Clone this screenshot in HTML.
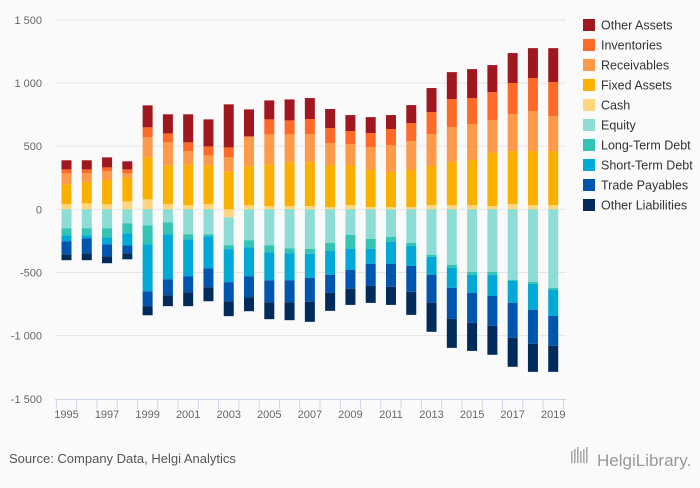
<!DOCTYPE html>
<html><head><meta charset="utf-8"><style>
body{margin:0;background:#fafafa;font-family:"Liberation Sans",sans-serif}
#wrap{position:relative;width:700px;height:483px;background:#fafafa}
svg text{font-family:"Liberation Sans",sans-serif}
</style></head><body>
<div id="wrap">
<svg id="chart" width="700" height="483"></svg>
</div>
<script>
const years=[1995,1996,1997,1998,1999,2000,2001,2002,2003,2004,2005,2006,2007,2008,2009,2010,2011,2012,2013,2014,2015,2016,2017,2018,2019];
const cash=[40,47,40,63,79,40,32,40,-63,32,24,24,26,18,34,18,18,18,34,34,34,26,42,34,34];
const fixedAssets=[158,169,192,190,332,308,324,308,301,308,332,348,348,333,317,293,277,293,309,340,356,420,419,427,427];
const receivables=[87,69,69,32,159,182,103,79,110,230,237,221,222,174,166,182,214,230,253,277,285,261,293,317,277];
const inventories=[31,31,31,31,79,71,71,71,79,8,119,111,119,118,103,111,127,142,174,222,206,221,246,261,269];
const otherAssets=[72,72,79,64,174,151,222,214,341,213,150,166,166,151,126,126,110,142,190,213,229,214,237,237,269];
const equity=[-150,-150,-150,-111,-127,-103,-198,-198,-222,-245,-285,-309,-314,-266,-203,-235,-219,-266,-361,-440,-496,-496,-559,-575,-622];
const longTermDebt=[-56,-56,-72,-79,-150,-95,-39,-16,-31,-56,-55,-39,-39,-64,-111,-79,-39,-24,-16,-24,-23,-23,-8,-16,-16];
const shortTermDebt=[-47,-23,-55,-95,-372,-356,-293,-253,-261,-229,-222,-214,-190,-189,-166,-118,-174,-158,-142,-158,-143,-167,-174,-205,-206];
const tradePayables=[-103,-119,-95,-63,-118,-126,-127,-150,-151,-166,-174,-174,-190,-143,-150,-175,-182,-206,-222,-246,-237,-237,-277,-269,-237];
const otherLiabilities=[-47,-55,-55,-48,-72,-87,-110,-111,-118,-111,-134,-142,-158,-142,-127,-134,-143,-182,-229,-229,-222,-229,-229,-222,-206];
const yTicks=[-1500,-1000,-500,0,500,1000,1500];
const yTickLabels=["-1 500","-1 000","-500","0","500","1 000","1 500"];
const xLabelYears=[1995,1997,1999,2001,2003,2005,2007,2009,2011,2013,2015,2017,2019];

const NS="http://www.w3.org/2000/svg";
const svg=document.getElementById('chart');
function mk(t,a){const e=document.createElementNS(NS,t);for(const k in a)e.setAttribute(k,a[k]);svg.appendChild(e);return e;}
const y0=209.3, pxPer=0.1263;
function y(v){return y0-v*pxPer;}
const xStart=66.5, step=20.28;
function x(i){return xStart+i*step;}

yTicks.forEach((t,i)=>{
  if(t!==-1500){const g=mk('line',{x1:55,x2:566,y1:y(t),y2:y(t),stroke:'#e6e6e6','stroke-width':1});
  
  }
  const tx=mk('text',{x:42,y:y(t)+4,'text-anchor':'end','font-size':11,fill:'#666'});
  tx.textContent=yTickLabels[i];
  
  
});
const ax=mk('line',{x1:55,x2:566,y1:399.5,y2:399.5,stroke:'#ccd6eb','stroke-width':1});


for(let i=0;i<=years.length;i++){
  const tk=mk('line',{x1:x(i)-step/2,x2:x(i)-step/2,y1:399.5,y2:409,stroke:'#ccd6eb','stroke-width':1});
  
  
}
xLabelYears.forEach(yr=>{
  const i=years.indexOf(yr);
  const t=mk('text',{x:x(i),y:418,'text-anchor':'middle','font-size':11,fill:'#666'});
  t.textContent=yr;
  
  
});

const series=[
 {name:'Cash',d:cash,c:'#ffd580'},
 {name:'Fixed Assets',d:fixedAssets,c:'#fbb000'},
 {name:'Receivables',d:receivables,c:'#ff9a4a'},
 {name:'Inventories',d:inventories,c:'#ff6a28'},
 {name:'Other Assets',d:otherAssets,c:'#a0171f'},
 {name:'Equity',d:equity,c:'#8eddd4'},
 {name:'Long-Term Debt',d:longTermDebt,c:'#33c4b3'},
 {name:'Short-Term Debt',d:shortTermDebt,c:'#00a9d6'},
 {name:'Trade Payables',d:tradePayables,c:'#0056ae'},
 {name:'Other Liabilities',d:otherLiabilities,c:'#002b5a'}
];
const bw=10;
years.forEach((yr,i)=>{
  let pos=0,neg=0;
  series.forEach(s=>{
    const v=s.d[i]; let a,b;
    if(v>=0){a=pos;b=pos+v;pos=b;}else{a=neg;b=neg+v;neg=b;}
    const top=Math.min(y(a),y(b)),h=Math.abs(y(a)-y(b));
    const r=mk('rect',{x:x(i)-bw/2,y:top,width:bw,height:h,fill:s.c});
    
    
  });
});

const legendOrder=['Other Assets','Inventories','Receivables','Fixed Assets','Cash','Equity','Long-Term Debt','Short-Term Debt','Trade Payables','Other Liabilities'];
legendOrder.forEach((n,k)=>{
  const s=series.find(q=>q.name===n);
  const ly=25+k*20;
  const g=document.createElementNS(NS,'g');svg.appendChild(g);
  
  
  const r=document.createElementNS(NS,'rect');
  r.setAttribute('x',583);r.setAttribute('y',ly-6);r.setAttribute('width',12);r.setAttribute('height',12);r.setAttribute('fill',s.c);
  
  
  g.appendChild(r);
  const t=document.createElementNS(NS,'text');
  t.setAttribute('x',601);t.setAttribute('y',ly+4.5);t.setAttribute('font-size',12.5);t.setAttribute('fill','#333');
  t.textContent=n;
  
  
  g.appendChild(t);
});

const src=mk('text',{x:9,y:463,'font-size':13,fill:'#555'});
src.textContent='Source: Company Data, Helgi Analytics';


for(let k=0;k<6;k++){
  const b=mk('rect',{x:571+k*3,y:454-(k%3)*2-3,width:1.6,height:12+(k%3)*2,fill:'#aaa'});
  
  
}
const lg=mk('text',{x:597,y:466,'font-size':17,fill:'#999','font-family':'Liberation Serif'});
lg.textContent='HelgiLibrary.';


</script>
</body></html>
